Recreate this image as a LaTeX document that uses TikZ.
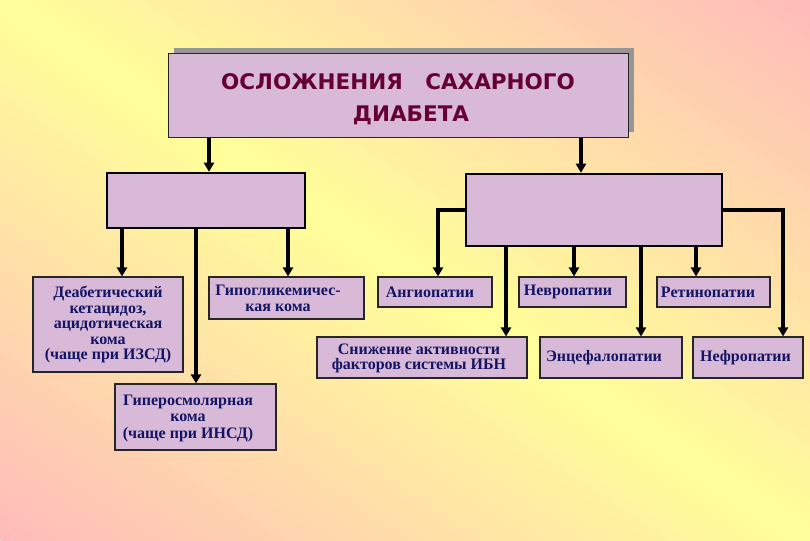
\documentclass[tikz,border=0pt]{standalone}
\usepackage{fontspec}
\setmainfont{Liberation Serif}
\newfontfamily\titlefont{DejaVu Sans}
\usetikzlibrary{arrows.meta}
\definecolor{bgyel}{RGB}{255,255,153}
\definecolor{bgpink}{RGB}{255,187,187}
\definecolor{boxfill}{RGB}{216,186,216}
\definecolor{titletxt}{RGB}{102,0,51}
\definecolor{bodytxt}{RGB}{20,20,100}
\definecolor{shadowc}{RGB}{150,150,150}
\tikzset{
  cbox/.style={draw=black!85, line width=1.1pt, fill=boxfill, inner sep=0pt, align=center,
    font=\fontsize{16}{15.5}\selectfont\bfseries, text=bodytxt},
  btext/.style={inner sep=0pt, align=center, text=bodytxt},
  mbox/.style={draw=black, line width=2.5pt, fill=boxfill, inner sep=0pt},
  arr/.style={line width=3.5pt, -{Triangle[width=10pt,length=9pt]}},
  ttext/.style={font=\titlefont\fontsize{21.5}{22}\selectfont\bfseries, text=titletxt, inner sep=0pt, anchor=base},
}
\begin{document}
\begin{tikzpicture}[x=1pt,y=-1pt]
\useasboundingbox (0,0) rectangle (810,540);
% background gradient: pink at top-right and bottom-left, yellow along the TL-BR diagonal
\begin{scope}
\clip (0,0) rectangle (810,540);
\foreach \i in {0,...,79}{
  \pgfmathsetmacro{\ta}{-1+\i/40}
  \pgfmathsetmacro{\tb}{\ta+1/40+0.004}
  \pgfmathsetmacro{\tm}{\ta+1/80}
  \pgfmathsetmacro{\pp}{100*(1-abs(\tm))}
  \fill[bgyel!\pp!bgpink]
    ({405+405*\ta-810},{270-270*\ta-540}) --
    ({405+405*\ta+810},{270-270*\ta+540}) --
    ({405+405*\tb+810},{270-270*\tb+540}) --
    ({405+405*\tb-810},{270-270*\tb-540}) -- cycle;
}
\end{scope}

% title
\node[fill=shadowc, minimum width=460pt, minimum height=84pt, inner sep=0pt] (S) at (404,90) {};
\node[draw=black!85, line width=1pt, fill=boxfill, minimum width=460pt, minimum height=84pt, inner sep=0pt] (T) at (398,96) {};
\node[ttext] (t1) at (398,90) {ОСЛОЖНЕНИЯ\ \ \ САХАРНОГО};
\node[ttext] (t2) at (411,122) {ДИАБЕТА};

% middle boxes
\node[mbox, minimum width=198pt, minimum height=55pt] (M1) at (206,200.5) {};
\node[mbox, minimum width=256pt, minimum height=72pt] (M2) at (594,210) {};

% children
\node[cbox, minimum width=150pt, minimum height=95pt] (A) at (108,324.5)
  {Деабетический\\кетацидоз,\\ацидотическая\\кома\\(чаще при ИЗСД)};
\node[cbox, minimum width=161pt, minimum height=66pt] (B) at (195.5,417) {};
\node[btext, font=\fontsize{16}{16.5}\selectfont\bfseries] (Bt) at (188,418)
  {Гиперосмолярная\\кома\\(чаще при ИНСД)};
\node[cbox, minimum width=155pt, minimum height=42pt] (C) at (286.5,298) {};
\node[btext, font=\fontsize{16}{15.5}\selectfont\bfseries] (Ct) at (278,298.5)
  {Гипогликемичес-\\кая кома};
\node[cbox, minimum width=114pt, minimum height=30pt] (D) at (435,292) {};
\node[btext, font=\fontsize{16}{16}\selectfont\bfseries] (Dt) at (430,292) {Ангиопатии};
\node[cbox, minimum width=210pt, minimum height=41pt] (E) at (422,357.5) {};
\node[btext, font=\fontsize{16}{15.5}\selectfont\bfseries] (Et) at (419,358.5)
  {Снижение активности\\факторов системы ИБН};
\node[cbox, minimum width=107pt, minimum height=30pt] (F) at (572.5,292) {};
\node[btext, font=\fontsize{16}{16}\selectfont\bfseries] (Ft) at (568,292) {Невропатии};
\node[cbox, minimum width=142pt, minimum height=41pt] (G) at (611,357.5) {};
\node[btext, font=\fontsize{16}{16}\selectfont\bfseries] (Gt) at (604,357.5) {Энцефалопатии};
\node[cbox, minimum width=113pt, minimum height=30pt] (H) at (713.5,292) {};
\node[btext, font=\fontsize{16}{16}\selectfont\bfseries] (Ht) at (708,292) {Ретинопатии};
\node[cbox, minimum width=110pt, minimum height=41pt] (I) at (748,357.5) {};
\node[btext, font=\fontsize{16}{16}\selectfont\bfseries] (It) at (745.5,357.5) {Нефропатии};

% arrow x-positions
\coordinate (xa) at (209,0);
\coordinate (xb) at (581,0);
\coordinate (x1) at (122,0);
\coordinate (x2) at (196,0);
\coordinate (x3) at (288,0);
\coordinate (xd) at (438,210);
\coordinate (xe) at (506,0);
\coordinate (xf) at (574,0);
\coordinate (xg) at (641,0);
\coordinate (xh) at (696,0);
\coordinate (xi) at (783,210);

\draw[arr] (T.south -| xa) -- (M1.north -| xa);
\draw[arr] (T.south -| xb) -- (M2.north -| xb);
\draw[arr] (M1.south -| x1) -- (A.north -| x1);
\draw[arr] (M1.south -| x2) -- (B.north -| x2);
\draw[arr] (M1.south -| x3) -- (C.north -| x3);
\draw[arr] (M2.west |- xd) -| (D.north -| xd);
\draw[arr] (M2.south -| xe) -- (E.north -| xe);
\draw[arr] (M2.south -| xf) -- (F.north -| xf);
\draw[arr] (M2.south -| xg) -- (G.north -| xg);
\draw[arr] (M2.south -| xh) -- (H.north -| xh);
\draw[arr] (M2.east |- xi) -| (I.north -| xi);
\end{tikzpicture}
\end{document}
